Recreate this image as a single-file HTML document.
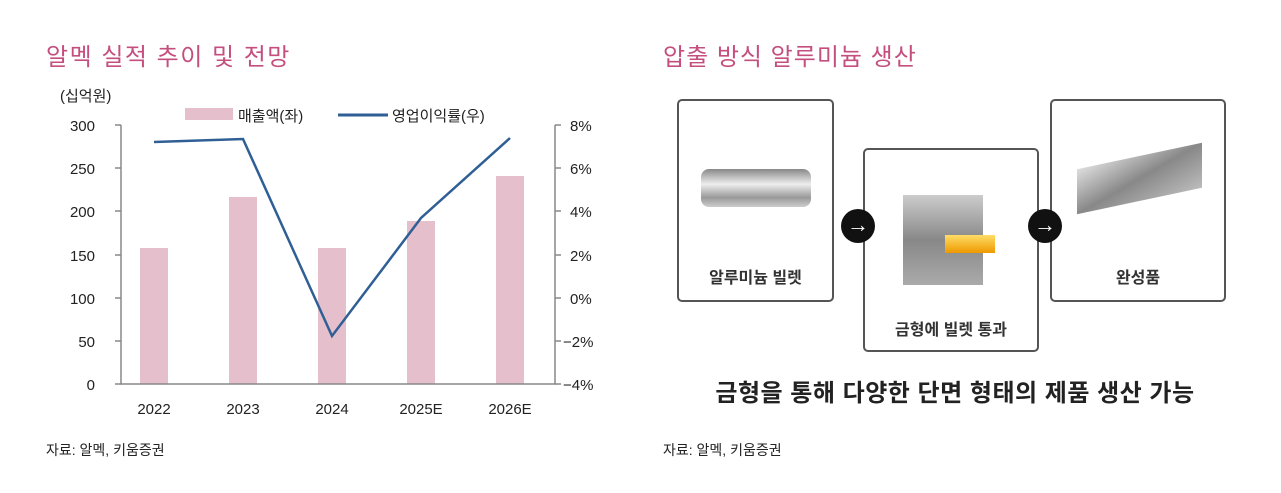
<!DOCTYPE html>
<html><head><meta charset="utf-8"><style>
body{margin:0;width:1281px;height:493px;background:#fff;position:relative;font-family:"Liberation Sans","Noto Sans CJK KR",sans-serif;overflow:hidden}
.t{position:absolute;white-space:nowrap}
.box{position:absolute;border:2px solid #555;border-radius:5px;background:#fff;box-sizing:border-box}
.lbl{position:absolute;width:100%;text-align:center;font-weight:bold;font-size:16px;color:#333}
.arr{position:absolute;width:34px;height:34px;border-radius:50%;background:#111;color:#fff;text-align:center;line-height:32px;font-size:22px}
</style></head><body>
<div class="t" style="left:46px;top:37px;font-size:24px;letter-spacing:1.5px;color:#c44f7f">알멕 실적 추이 및 전망</div>
<div class="t" style="left:663px;top:37px;font-size:24px;letter-spacing:1px;color:#c44f7f">압출 방식 알루미늄 생산</div>
<svg style="position:absolute;left:0;top:0" width="640" height="420" font-family="Liberation Sans,Noto Sans CJK KR,sans-serif" font-size="15" fill="#222">
<text x="60" y="101" font-size="15">(십억원)</text>
<rect x="185" y="108" width="48" height="12" fill="#e6bfcc"/><text x="238" y="121" font-size="15">매출액(좌)</text>
<line x1="338" y1="115" x2="388" y2="115" stroke="#2f5f95" stroke-width="3"/><text x="392" y="121" font-size="15">영업이익률(우)</text>
<g fill="#e6bfcc">
<rect x="140" y="248" width="28" height="136"/>
<rect x="229" y="197" width="28" height="187"/>
<rect x="318" y="248" width="28" height="136"/>
<rect x="407" y="221" width="28" height="163"/>
<rect x="496" y="176" width="28" height="208"/>
</g>
<g stroke="#888" stroke-width="1.5" fill="none">
<path d="M121 125V384H555V125"/>
<path d="M115 125h6M115 168h6M115 211h6M115 255h6M115 298h6M115 341h6M115 384h6"/>
<path d="M555 125h6M555 168h6M555 211h6M555 255h6M555 298h6M555 341h6M555 384h6"/>
</g>
<polyline points="154,142 243,139 332,336 421,218 510,138" fill="none" stroke="#2f5f95" stroke-width="2.5"/>
<g text-anchor="end">
<text x="95" y="131">300</text><text x="95" y="174">250</text><text x="95" y="217">200</text><text x="95" y="261">150</text><text x="95" y="304">100</text><text x="95" y="347">50</text><text x="95" y="390">0</text>
</g>
<g>
<text x="570" y="131">8%</text><text x="570" y="174">6%</text><text x="570" y="217">4%</text><text x="570" y="261">2%</text><text x="570" y="304">0%</text><text x="563" y="347">−2%</text><text x="563" y="390">−4%</text>
</g>
<g text-anchor="middle">
<text x="154" y="414">2022</text><text x="243" y="414">2023</text><text x="332" y="414">2024</text><text x="421" y="414">2025E</text><text x="510" y="414">2026E</text>
</g>
</svg>
<div class="t" style="left:46px;top:440px;font-size:14px;color:#222">자료: 알멕, 키움증권</div>
<div class="t" style="left:663px;top:440px;font-size:14px;color:#222">자료: 알멕, 키움증권</div>

<div class="box" style="left:677px;top:99px;width:157px;height:203px">
<div style="position:absolute;left:22px;top:68px;width:110px;height:38px;border-radius:8px;background:linear-gradient(#888,#eee 40%,#999 75%,#ccc)"></div>
<div class="lbl" style="top:163px">알루미늄 빌렛</div></div>
<div class="box" style="left:1050px;top:99px;width:176px;height:203px">
<div style="position:absolute;left:25px;top:55px;width:125px;height:45px;background:linear-gradient(160deg,#ddd,#888 50%,#bbb);transform:skewY(-12deg)"></div>
<div class="lbl" style="top:163px">완성품</div></div>
<div class="box" style="left:863px;top:148px;width:176px;height:204px">
<div style="position:absolute;left:38px;top:45px;width:80px;height:90px;background:linear-gradient(#ccc,#888,#aaa)"></div>
<div style="position:absolute;left:80px;top:85px;width:50px;height:18px;background:linear-gradient(#fd6,#e90)"></div>
<div class="lbl" style="top:166px">금형에 빌렛 통과</div></div>
<div class="arr" style="left:841px;top:209px">→</div>
<div class="arr" style="left:1028px;top:209px">→</div>
<div class="t" style="left:690px;top:373px;width:530px;text-align:center;font-size:24px;letter-spacing:0.5px;font-weight:bold;color:#222">금형을 통해 다양한 단면 형태의 제품 생산 가능</div>
</body></html>
